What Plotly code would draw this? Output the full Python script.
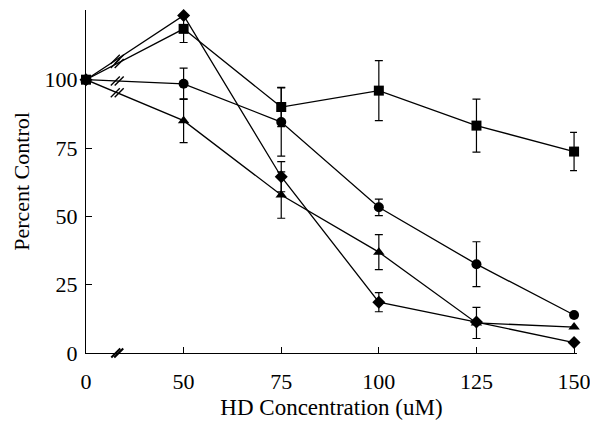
import plotly.graph_objects as go

concentrations = [0, 50, 75, 100, 125, 150]
tick_labels = ["0", "50", "75", "100", "125", "150"]

diamond_vals = [100, 123.5, 64.5, 18.6, 11.3, 3.8]
diamond_err = [0, 0, 5.5, 3.5, 0, 0]
square_vals = [100, 118.6, 90.0, 96.0, 83.2, 73.7]
square_err = [0, 5.0, 7.2, 11.0, 9.7, 7.0]
circle_vals = [100, 98.5, 84.5, 53.3, 32.5, 13.9]
circle_err = [0, 5.7, 12.5, 3.0, 8.2, 0]
triangle_vals = [100, 85.0, 57.8, 36.9, 11.0, 9.5]
triangle_err = [0, 8.0, 8.5, 6.4, 5.7, 0]

pos = list(range(len(concentrations)))
BREAK_FRAC = 0.32

series = [
    ("diamond", diamond_vals, diamond_err, 10),
    ("square", square_vals, square_err, 10),
    ("circle", circle_vals, circle_err, 10),
    ("triangle-up", triangle_vals, triangle_err, 10),
]

fig = go.Figure()
for sym, vals, err, size in series:
    fig.add_trace(go.Scatter(
        x=pos, y=vals, mode="lines+markers",
        line=dict(color="black", width=1.3),
        marker=dict(symbol=sym, size=size, color="black"),
        error_y=dict(type="data", array=err, visible=True, color="black",
                     thickness=1.2, width=4),
        cliponaxis=False, showlegend=False,
    ))
    # axis-break slashes on the first segment
    bx = pos[0] + BREAK_FRAC * (pos[1] - pos[0])
    by = vals[0] + BREAK_FRAC * (vals[1] - vals[0])
    fig.add_trace(go.Scatter(
        x=[bx - 0.02, bx + 0.02], y=[by, by], mode="markers",
        marker=dict(symbol="line-ne-open", size=9, color="black",
                    line=dict(color="black", width=1.4)),
        cliponaxis=False, showlegend=False, hoverinfo="skip",
    ))

# break mark on the x axis
bx = pos[0] + BREAK_FRAC * (pos[1] - pos[0])
fig.add_trace(go.Scatter(
    x=[bx - 0.015, bx + 0.015], y=[0, 0], mode="markers",
    marker=dict(symbol="line-ne-open", size=9, color="black",
                line=dict(color="black", width=2)),
    cliponaxis=False, showlegend=False, hoverinfo="skip",
))

font = "Liberation Serif, Times New Roman, serif"
fig.update_layout(
    width=590, height=427,
    margin=dict(l=86, r=13, t=10, b=74, autoexpand=False),
    plot_bgcolor="white", paper_bgcolor="white",
    font=dict(family=font, size=22, color="black"),
    xaxis=dict(
        range=[0, 5.03], tickvals=pos, ticktext=tick_labels,
        ticklabeloverflow="allow", automargin=False, ticklabelstandoff=8,
        showline=True, linecolor="black", linewidth=1.3,
        ticks="inside", ticklen=6, tickcolor="black", tickwidth=1,
        showgrid=False, zeroline=False,
        title=dict(text="HD Concentration (uM)", font=dict(size=23), standoff=6),
    ),
    yaxis=dict(
        range=[0, 125.5], tickvals=[0, 25, 50, 75, 100], automargin=False,
        ticklabelstandoff=3,
        showline=True, linecolor="black", linewidth=1.3,
        ticks="inside", ticklen=6, tickcolor="black", tickwidth=1,
        showgrid=False, zeroline=False,
        title=dict(text="Percent Control", font=dict(size=22), standoff=8),
    ),
)
fig.write_html(
    "out.html",
    config={"displayModeBar": False},
    post_script="document.body.style.margin='0';document.body.style.overflow='hidden';",
)
